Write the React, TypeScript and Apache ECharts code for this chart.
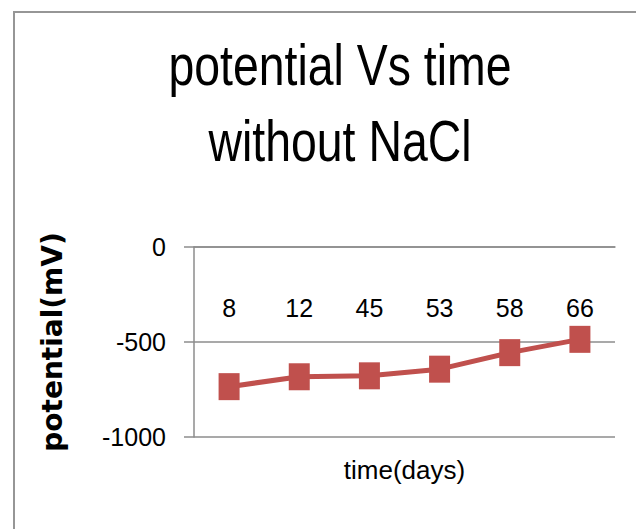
import React, { useEffect, useRef } from "react";
import * as echarts from "echarts";

const categories = ["8", "12", "45", "53", "58", "66"];
const potential = [-735, -683, -678, -643, -556, -486];
const yMin = -1000;
const yMax = 0;
const yInterval = 500;

const SANS = "'Liberation Sans', Arial, sans-serif";

export default function App() {
  const ref = useRef<HTMLDivElement>(null);
  useEffect(() => {
    if (!ref.current) return;
    const chart = echarts.init(ref.current, undefined, { renderer: "svg" });
    chart.setOption({
      animation: false,
      backgroundColor: "#ffffff",
      graphic: [
        {
          type: "rect",
          shape: { x: 14, y: 12, width: 700, height: 600 },
          style: { fill: "none", stroke: "#969696", lineWidth: 2 },
          silent: true,
        },
        {
          type: "text",
          x: 340,
          y: 103,
          scaleX: 0.8,
          style: {
            text: "potential Vs time\nwithout NaCl",
            align: "center",
            verticalAlign: "middle",
            fontFamily: SANS,
            fontSize: 58,
            lineHeight: 76,
            fill: "#000000",
          },
        },
      ],
      grid: { left: 194, right: 21, top: 247, bottom: 92, containLabel: false, outerBoundsMode: "none" },
      xAxis: [
        {
          type: "category",
          data: categories,
          boundaryGap: true,
          position: "top",
          axisLine: { show: true, onZero: false, lineStyle: { color: "#8c8c8c", width: 1.5 } },
          axisTick: { show: false },
          axisLabel: { fontFamily: SANS, fontSize: 25, color: "#000", margin: 48, inside: true },
        },
        {
          type: "category",
          data: categories,
          boundaryGap: true,
          position: "bottom",
          axisLine: { show: false, onZero: false },
          axisTick: { show: false },
          axisLabel: { show: false },
          name: "time(days)",
          nameLocation: "middle",
          nameGap: 20,
          nameMoveOverlap: false,
          nameTextStyle: { fontFamily: SANS, fontSize: 26, color: "#000", verticalAlign: "top" },
        },
      ],
      yAxis: {
        type: "value",
        min: yMin,
        max: yMax,
        interval: yInterval,
        axisLine: { show: true, lineStyle: { color: "#8c8c8c", width: 1.5 } },
        axisTick: { show: true, length: 10, lineStyle: { color: "#8c8c8c", width: 1.5 } },
        splitLine: { show: true, lineStyle: { color: "#8c8c8c", width: 1.5 } },
        axisLabel: {
          fontFamily: SANS,
          fontSize: 25,
          color: "#000",
          margin: 28,
          formatter: (v: number) => String(v),
        },
        name: "potential(mV)",
        nameLocation: "middle",
        nameGap: 128,
        nameRotate: 90,
        nameMoveOverlap: false,
        nameTextStyle: { fontFamily: "'DejaVu Sans', sans-serif", fontWeight: "bold", fontSize: 28, color: "#000" },
      },
      series: [
        {
          type: "line",
          data: potential,
          symbol: "rect",
          symbolSize: [21, 27],
          lineStyle: { color: "#C0504D", width: 5 },
          itemStyle: { color: "#C0504D" },
        },
      ],
    });
    return () => chart.dispose();
  }, []);
  return (
    <div
      ref={ref}
      style={{ position: "absolute", left: 0, top: 0, width: 636, height: 529 }}
    />
  );
}
